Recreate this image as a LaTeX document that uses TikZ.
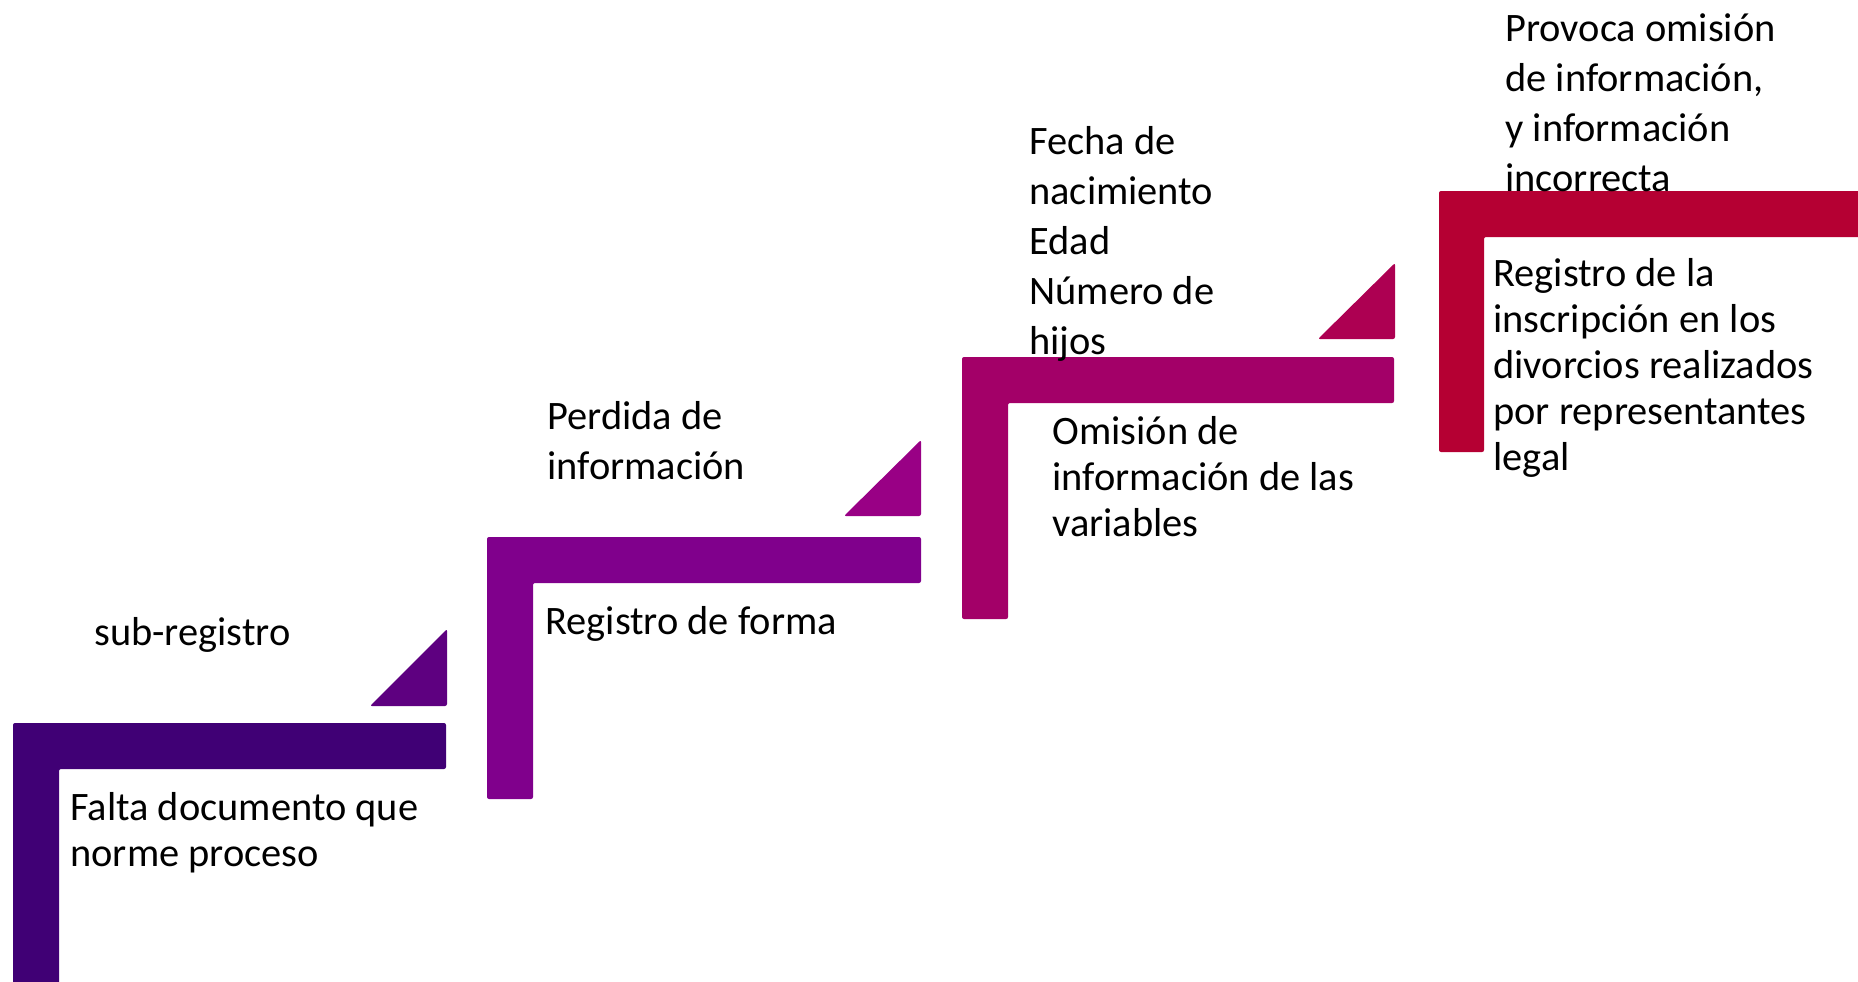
\documentclass[tikz,border=0pt]{standalone}
\usepackage{fontspec}
\setmainfont{Carlito}

\definecolor{stepA}{RGB}{64,0,117}
\definecolor{triA}{RGB}{94,0,128}
\definecolor{stepB}{RGB}{128,0,140}
\definecolor{triB}{RGB}{153,0,133}
\definecolor{stepC}{RGB}{163,0,104}
\definecolor{triC}{RGB}{173,0,82}
\definecolor{stepD}{RGB}{181,0,51}

\begin{document}
\begin{tikzpicture}[x=0.5pt,y=-0.5pt,
    head/.style={anchor=base west,align=left,inner sep=0pt,
      font=\fontsize{20.2}{25}\selectfont},
    note/.style={anchor=base west,align=left,inner sep=0pt,
      font=\fontsize{20.2}{23}\selectfont},
    stair/.style={rounded corners=1pt}]
            \useasboundingbox (0,0) rectangle (1858,981);
            \clip (0,0) rectangle (1858,981);

            % the steps
            \begin{scope}[stair]
                \fill[stepA] (13,723) -- (446,723) -- (446,769) -- (59,769) -- (59,990) -- (13,990) -- cycle;
                \fill[triA] (370,706) -- (447,706) -- (447,629) -- cycle;

                \fill[stepB] (487,537) -- (921,537) -- (921,583) -- (533,583) -- (533,799) -- (487,799) -- cycle;
                \fill[triB] (844,516) -- (921,516) -- (921,440) -- cycle;

                \fill[stepC] (962,357) -- (1394,357) -- (1394,403) -- (1008,403) -- (1008,619) -- (962,619) -- cycle;
                \fill[triC] (1318,339) -- (1395,339) -- (1395,263) -- cycle;

                \fill[stepD] (1439,191) -- (1870,191) -- (1870,237) -- (1484,237) -- (1484,452) -- (1439,452) -- cycle;
            \end{scope}

            % labels above (placed at the last line)
            \node[head] (subreg) at (94,645) {sub-registro};
            \node[head] (perdida) at (547,479) {Perdida de\\información};
            \node[head] (fecha) at (1029,354) {Fecha de\\nacimiento\\Edad\\Número de\\hijos};
            \node[head] (provoca) at (1505,191) {Provoca omisión\\de información,\\y información\\incorrecta};

            % labels below
            \node[note] (falta) at (70,866) {Falta documento que\\norme proceso};
            \node[note] (forma) at (545,634) {Registro de forma};
            \node[note] (omision) at (1052,536) {Omisión de\\información de las\\variables};
            \node[note] (inscrip) at (1493,470) {Registro de la\\inscripción en los\\divorcios realizados\\por representantes\\legal};
\end{tikzpicture}
\end{document}
